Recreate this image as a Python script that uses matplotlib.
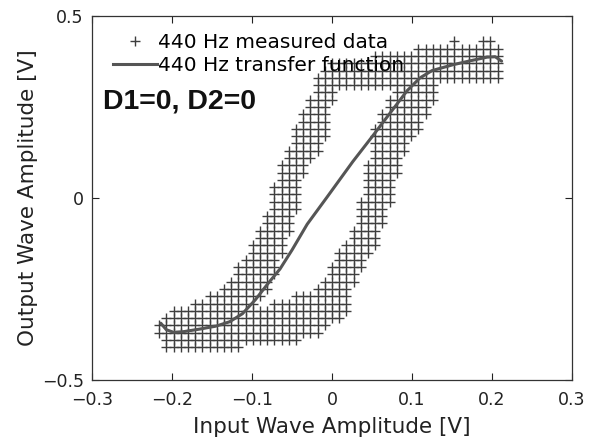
import numpy as np
import matplotlib
matplotlib.use("Agg")
import matplotlib.pyplot as plt
from matplotlib.lines import Line2D

# ---------------- data ----------------
# measured data: rows of quantised output levels, each with up to two x-extents
row_y = [0.43, 0.41, 0.39, 0.37, 0.35, 0.33, 0.31, 0.29, 0.27, 0.25,
         0.23, 0.21, 0.19, 0.17, 0.15, 0.13, 0.11, 0.09, 0.07, 0.05,
         0.03, 0.01, -0.01, -0.03, -0.05, -0.07, -0.09, -0.11, -0.13, -0.15,
         -0.17, -0.19, -0.21, -0.23, -0.25, -0.27, -0.29, -0.31, -0.33, -0.35,
         -0.37, -0.39, -0.41]
seg_a = [(0.150, 0.160), (0.100, 0.214), (0.046, 0.214), (0.000, 0.214), (-0.012, 0.214),
         (-0.020, 0.210), (-0.020, 0.130), (-0.026, 0.000), (-0.030, 0.001), (-0.035, -0.001),
         (-0.040, -0.005), (-0.044, -0.006), (-0.047, -0.006), (-0.051, -0.006), (-0.052, -0.011),
         (-0.055, -0.014), (-0.060, -0.020), (-0.065, -0.028), (-0.069, -0.034), (-0.070, -0.038),
         (-0.073, -0.041), (-0.074, -0.043), (-0.075, -0.041), (-0.079, -0.044), (-0.083, -0.048),
         (-0.085, -0.050), (-0.090, -0.053), (-0.095, -0.056), (-0.100, -0.060), (-0.106, -0.063),
         (-0.114, -0.065), (-0.120, -0.068), (-0.125, -0.071), (-0.130, -0.075), (-0.139, -0.080),
         (-0.155, -0.088), (-0.177, -0.093), (-0.206, 0.020), (-0.212, 0.010), (-0.218, -0.003),
         (-0.218, -0.015), (-0.215, -0.045), (-0.210, -0.115)]
seg_b = [(0.189, 0.206), None, None, None, None,
         None, None, (0.075, 0.127), (0.070, 0.126), (0.066, 0.123),
         (0.059, 0.120), (0.056, 0.116), (0.054, 0.110), (0.051, 0.103), (0.050, 0.098),
         (0.048, 0.090), (0.046, 0.086), (0.044, 0.084), (0.043, 0.081), (0.041, 0.079),
         (0.039, 0.076), (0.039, 0.079), (0.036, 0.078), (0.033, 0.071), (0.030, 0.068),
         (0.029, 0.064), (0.025, 0.060), (0.019, 0.058), (0.014, 0.054), (0.008, 0.049),
         (0.003, 0.044), (-0.003, 0.040), (-0.006, 0.035), (-0.014, 0.031), (-0.025, 0.026),
         (-0.046, 0.023), (-0.075, 0.020), None, None, None,
         None, None, None]
x_quantum = 0.009  # input quantisation step seen in the lattice of markers

# transfer function curve
tf_x = [-0.214, -0.207, -0.198, -0.185, -0.165, -0.145, -0.128, -0.112, -0.096, -0.080,
        -0.065, -0.050, -0.031, -0.006, 0.026, 0.050, 0.069, 0.094, 0.110, 0.125,
        0.151, 0.175, 0.194, 0.204, 0.212]
tf_y = [-0.344, -0.362, -0.369, -0.367, -0.360, -0.352, -0.340, -0.318, -0.280, -0.235,
        -0.195, -0.143, -0.072, 0.003, 0.100, 0.168, 0.223, 0.295, 0.330, 0.350,
        0.366, 0.378, 0.387, 0.388, 0.376]

x_ticks = [-0.3, -0.2, -0.1, 0, 0.1, 0.2, 0.3]
x_tick_labels = ["\u22120.3", "\u22120.2", "\u22120.1", "0", "0.1", "0.2", "0.3"]
y_ticks = [-0.5, 0, 0.5]
y_tick_labels = ["\u22120.5", "0", "0.5"]

# ---------------- build measured points ----------------
lattice = np.round(np.arange(-34, 35) * x_quantum, 5)
mx, my = [], []
for y, a, b in zip(row_y, seg_a, seg_b):
    for seg in (a, b):
        if seg is None:
            continue
        sel = lattice[(lattice >= seg[0] - 1e-9) & (lattice <= seg[1] + 1e-9)]
        mx.extend(sel)
        my.extend([y] * len(sel))

# ---------------- figure ----------------
W, H = 593, 447
fig = plt.figure(figsize=(W / 100, H / 100), dpi=100)
ax = fig.add_axes([92 / W, 1 - 380 / H, 480 / W, 364 / H])

mcol = "#3e3e3e"
ax.plot(mx, my, linestyle="none", marker="+", markersize=6.6,
        markeredgewidth=1.0, color=mcol)
ax.plot(tf_x, tf_y, color="#555555", linewidth=2.2, solid_capstyle="round")

ax.set_xlim(-0.3, 0.3)
ax.set_ylim(-0.5, 0.5)
ax.set_xticks(x_ticks)
ax.set_xticklabels(x_tick_labels)
ax.set_yticks(y_ticks)
ax.set_yticklabels(y_tick_labels)
ax.tick_params(direction="in", top=True, right=True, length=5, width=0.8,
               colors="#222222", labelsize=12.5)
ax.tick_params(axis="x", pad=8)
ax.tick_params(axis="y", pad=6)
for s in ax.spines.values():
    s.set_color("#333333")
    s.set_linewidth(0.9)

ax.set_xlabel("Input Wave Amplitude [V]", fontsize=15.5, color="#222222", labelpad=6)
ax.set_ylabel("Output Wave Amplitude [V]", fontsize=15.5, color="#222222", labelpad=3)

handles = [Line2D([], [], linestyle="none", marker="+", markersize=7,
                  markeredgewidth=1.0, color=mcol),
           Line2D([], [], color="#555555", linewidth=2.2)]
ax.legend(handles, ["440 Hz measured data", "440 Hz transfer function"],
          loc="upper left", bbox_to_anchor=(0.035, 0.965), frameon=False,
          fontsize=14.5, handlelength=2.2, handletextpad=0.05,
          labelspacing=0.2, borderaxespad=0.0, borderpad=0.2)

ax.text(0.023, 0.745, "D1=0, D2=0", transform=ax.transAxes,
        fontsize=20.5, fontweight="bold", family=["Liberation Sans", "DejaVu Sans"],
        va="baseline", ha="left", color="#111111")

fig.savefig("out.png", dpi=100)
